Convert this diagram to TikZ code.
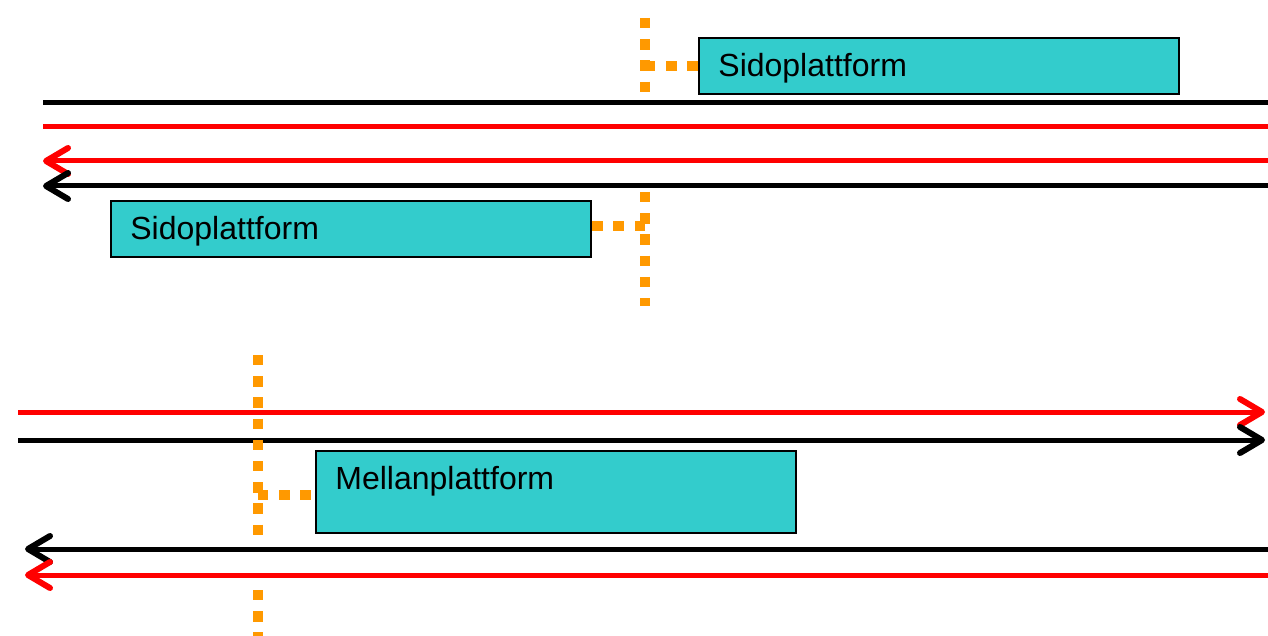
\documentclass[tikz,border=0pt]{standalone}
\usepackage{fontspec}
\setmainfont{Liberation Sans}
\usetikzlibrary{arrows.meta,calc}
\definecolor{platform}{HTML}{33CCCC}
\definecolor{walkway}{HTML}{FF9900}
\tikzset{
  track/.style={line width=2.5pt},
  tip/.style={-{Straight Barb[length=11pt,width=13pt,line width=3pt,round]}},
  platformbox/.style={draw=black,line width=1pt,fill=platform,rectangle,inner sep=0pt,anchor=north west},
  platformtext/.style={anchor=base west,inner sep=0pt,font=\fontsize{16}{19}\selectfont},
  walk/.style={draw=walkway,line width=5pt,dash pattern=on 5.2pt off 5.4pt}
}
\begin{document}
\begin{tikzpicture}[x=0.5pt,y=-0.5pt]
\useasboundingbox (0,0) rectangle (1268,636);

% side platform station: two tracks each way
\coordinate (a1) at (43,103);  \coordinate (a2) at (1280,103);
\coordinate (b1) at (43,127);  \coordinate (b2) at (1280,127);
\coordinate (c1) at (1280,161); \coordinate (c2) at (43,161);
\coordinate (d1) at (1280,186); \coordinate (d2) at (43,186);
\draw[track,black] (a1) -- (a2);
\draw[track,red]   (b1) -- (b2);
\draw[track,red,tip]   (c1) -- (c2);
\draw[track,black,tip] (d1) -- (d2);

\node[platformbox,minimum width=240pt,minimum height=28pt] (p1) at (698,37) {};
\node[platformtext] (t1) at (718,77) {Sidoplattform};
\node[platformbox,minimum width=240pt,minimum height=28pt] (p2) at (110,200) {};
\node[platformtext] (t2) at (130,240) {Sidoplattform};

% footpath across the tracks
\coordinate (w1) at (645,18);  \coordinate (w2) at (645,93);
\coordinate (w3) at (645,192); \coordinate (w4) at (645,306);
\coordinate (w5) at (645,66);  \coordinate (w6) at (645,226);
\draw[walk] (w1) -- (w2);
\draw[walk] (w3) -- (w4);
\draw[walk] (w5) -- (p1.west |- w5);
\draw[walk] (w6) -- (p2.east |- w6);

% island platform station
\coordinate (e1) at (18,412);  \coordinate (e2) at (1265,412);
\coordinate (f1) at (18,440);  \coordinate (f2) at (1265,440);
\coordinate (g1) at (1280,549); \coordinate (g2) at (25,549);
\coordinate (h1) at (1280,575); \coordinate (h2) at (25,575);
\draw[track,red,tip]   (e1) -- (e2);
\draw[track,black,tip] (f1) -- (f2);
\draw[track,black,tip] (g1) -- (g2);
\draw[track,red,tip]   (h1) -- (h2);

\node[platformbox,minimum width=240pt,minimum height=41pt] (p3) at (315,450) {};
\node[platformtext] (t3) at (335,489) {Mellanplattform};

\coordinate (v1) at (258,355); \coordinate (v2) at (258,536);
\coordinate (v3) at (258,590); \coordinate (v4) at (258,640);
\coordinate (v5) at (258,495);
\draw[walk] (v1) -- (v2);
\draw[walk] (v3) -- (v4);
\draw[walk] (v5) -- (p3.west |- v5);
\end{tikzpicture}
\end{document}
